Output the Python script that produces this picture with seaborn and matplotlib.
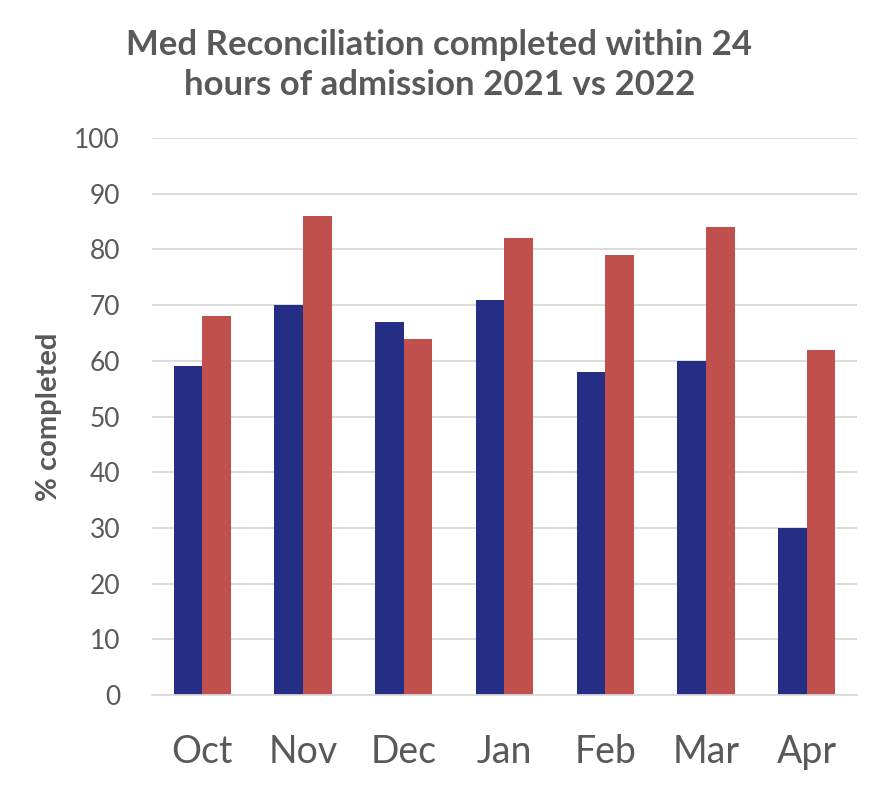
import pandas as pd
import matplotlib.pyplot as plt
import seaborn as sns

# Chart data
months = ['Oct', 'Nov', 'Dec', 'Jan', 'Feb', 'Mar', 'Apr']
pct_2021 = [59, 70, 67, 71, 58, 60, 30]
pct_2022 = [68, 86, 64, 82, 79, 84, 62]
years = ['2021', '2022']

df = pd.DataFrame({
    'month': months * 2,
    'year': [years[0]] * len(months) + [years[1]] * len(months),
    'value': pct_2021 + pct_2022,
})

sns.set_style('white')
plt.rcParams['font.family'] = ['Lato', 'DejaVu Sans']

fig = plt.figure(figsize=(8.79, 7.86), dpi=100)
ax = fig.add_axes([152 / 879, 1 - 695 / 786, (857 - 152) / 879, (695 - 138) / 786])

sns.barplot(data=df, x='month', y='value', hue='year', order=months,
            palette=['#232E84', '#C0504D'], width=0.57, saturation=1,
            linewidth=0, ax=ax, legend=False)

ax.set_ylim(0, 100)
ax.set_xlim(-0.5, len(months) - 0.5)
ax.set_yticks(range(0, 101, 10))
ax.yaxis.grid(True, color='#D9D9D9', linewidth=1.3)
ax.set_axisbelow(True)
for side in ['top', 'right', 'left']:
    ax.spines[side].set_visible(False)
ax.spines['bottom'].set_color('#D9D9D9')
ax.spines['bottom'].set_linewidth(1.3)

ax.tick_params(axis='y', length=0, labelsize=19, labelcolor='#595959', pad=23)
ax.tick_params(axis='x', length=0, labelsize=27, labelcolor='#595959', pad=28)
ax.set_xlabel('')
ax.set_ylabel('% completed', fontsize=21, fontweight='bold', color='#595959', labelpad=9)

fig.text(0.5 * (127 + 752) / 879, 1 - 65 / 786,
         'Med Reconciliation completed within 24\nhours of admission 2021 vs 2022',
         ha='center', va='center', fontsize=25, fontweight='bold', color='#595959',
         linespacing=1.3)

fig.savefig('out.png', dpi=100)
plt.close()
